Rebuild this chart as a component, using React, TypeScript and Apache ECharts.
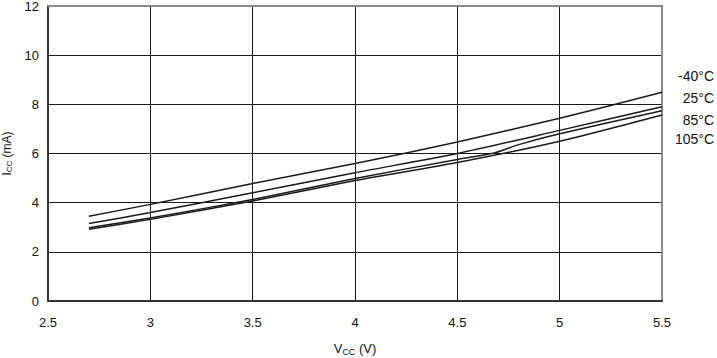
import React, { useEffect, useRef } from "react";
import * as echarts from "echarts";

const vcc = [2.7, 3.0, 3.5, 4.0, 4.5, 5.0, 5.5];
const vcc85 = [2.7, 3.0, 3.5, 4.0, 4.5, 4.68, 4.8, 5.0, 5.5];
const iccM40 = [3.45, 3.93, 4.78, 5.59, 6.47, 7.43, 8.49];
const icc25 = [3.15, 3.6, 4.4, 5.22, 6.0, 6.94, 7.9];
const icc85 = [2.98, 3.38, 4.13, 4.98, 5.76, 6.02, 6.36, 6.8, 7.74];
const icc105 = [2.92, 3.32, 4.07, 4.9, 5.63, 6.5, 7.57];
const seriesNames = ["-40°C", "25°C", "85°C", "105°C"];
const xTicks = [2.5, 3, 3.5, 4, 4.5, 5, 5.5];
const yTicks = [0, 2, 4, 6, 8, 10, 12];

const FONT = "'Liberation Sans', Arial, sans-serif";

export default function App() {
  const ref = useRef<HTMLDivElement>(null);
  useEffect(() => {
    if (!ref.current) return;
    const chart = echarts.init(ref.current, undefined, { renderer: "svg" });
    const pairs = (xs: number[], ys: number[]) => xs.map((x, i) => [x, ys[i]]);
    const lineStyle = { color: "#1a1a1a", width: 1.5 };
    const mk = (name: string, data: number[][]) => ({
      name,
      type: "line",
      data,
      symbol: "none",
      smooth: 0.25,
      lineStyle,
      xAxisIndex: 0,
      yAxisIndex: 0,
    });
    const labelYs = [77, 99, 121, 140];
    chart.setOption({
      animation: false,
      textStyle: { fontFamily: FONT },
      grid: { left: 48, right: 55, top: 6, bottom: 57, containLabel: false, outerBoundsMode: "none" },
      xAxis: [
        {
          type: "value",
          min: 2.5,
          max: 5.5,
          interval: 0.5,
          axisLine: { show: true, onZero: false, lineStyle: { color: "#333", width: 2 } },
          axisTick: { show: false },
          splitLine: { show: true, lineStyle: { color: "#1a1a1a", width: 1 } },
          axisLabel: {
            color: "#111",
            fontSize: 13,
            fontFamily: FONT,
            margin: 15,
            formatter: (v: number) => (xTicks.includes(v) ? String(v) : ""),
          },
          name: "{a|V}{b|CC}{a| (V)}",
          nameLocation: "middle",
          nameGap: 40,
          nameTextStyle: {
            rich: {
              a: { fontSize: 13, color: "#111", fontFamily: FONT },
              b: { fontSize: 9, color: "#111", fontFamily: FONT, padding: [6, 0, 0, 0] },
            },
          },
        },
        {
          type: "value",
          position: "top",
          min: 2.5,
          max: 5.5,
          axisLine: { show: true, onZero: false, lineStyle: { color: "#8a8a8a", width: 2 } },
          axisTick: { show: false },
          axisLabel: { show: false },
          splitLine: { show: false },
        },
      ],
      yAxis: [
        {
          type: "value",
          min: 0,
          max: 12,
          interval: 2,
          axisLine: { show: true, onZero: false, lineStyle: { color: "#333", width: 2 } },
          axisTick: { show: false },
          splitLine: { show: true, lineStyle: { color: "#1a1a1a", width: 1 } },
          axisLabel: {
            color: "#111",
            fontSize: 13,
            fontFamily: FONT,
            margin: 9,
            formatter: (v: number) => (yTicks.includes(v) ? String(v) : ""),
          },
          name: "{a|I}{b|CC}{a| (mA)}",
          nameLocation: "middle",
          nameGap: 31,
          nameTextStyle: {
            rich: {
              a: { fontSize: 12, color: "#111", fontFamily: FONT },
              b: { fontSize: 8, color: "#111", fontFamily: FONT, padding: [6, 0, 0, 0] },
            },
          },
        },
        {
          type: "value",
          position: "right",
          min: 0,
          max: 12,
          axisLine: { show: true, onZero: false, lineStyle: { color: "#8a8a8a", width: 2 } },
          axisTick: { show: false },
          axisLabel: { show: false },
          splitLine: { show: false },
        },
      ],
      series: [
        mk(seriesNames[0], pairs(vcc, iccM40)),
        mk(seriesNames[1], pairs(vcc, icc25)),
        mk(seriesNames[2], pairs(vcc85, icc85)),
        mk(seriesNames[3], pairs(vcc, icc105)),
      ],
      graphic: seriesNames.map((n, i) => ({
        type: "text",
        right: 3,
        top: labelYs[i] - 8,
        style: { text: n, fontSize: 14, fill: "#111", fontFamily: FONT },
      })),
    });
    return () => chart.dispose();
  }, []);
  return <div ref={ref} style={{ width: 717, height: 358, position: "absolute", left: 0, top: 0 }} />;
}
